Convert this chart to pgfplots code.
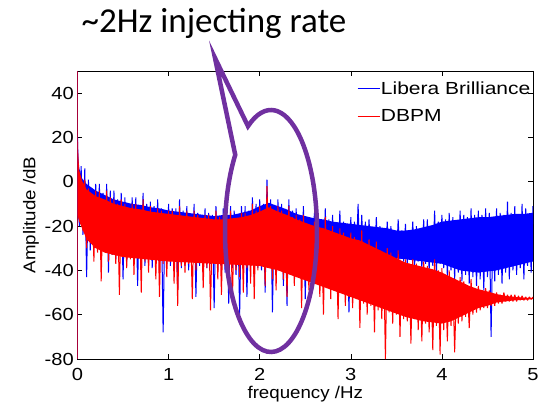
\documentclass[border=0pt]{standalone}
\usepackage{pgfplots}
\pgfplotsset{compat=1.18}
\usepackage{graphicx}
\usepackage{fontspec}
\setmainfont{Liberation Sans}
\newfontfamily\calibri{Carlito}
\definecolor{callout}{HTML}{7030A0}
\definecolor{mblue}{rgb}{0,0,1}
\definecolor{mred}{rgb}{1,0,0}
\begin{document}
\begin{tikzpicture}
\begin{axis}[
  scale only axis, width=455.5pt, height=288pt,
  at={(0pt,0pt)}, anchor=south west,
  xmin=0, xmax=5, ymin=-80, ymax=50,
  xtick={0,1,2,3,4,5}, ytick={-80,-60,-40,-20,0,20,40},
  tick align=inside, major tick length=5pt,
  axis line style={line width=0.7pt},
  tick style={line width=0.6pt, black},
  /pgf/number format/assume math mode=true,
  xticklabel={\scalebox{1.15}[1]{\pgfmathprintnumber{\tick}}},
  yticklabel={\scalebox{1.15}[1]{\pgfmathprintnumber{\tick}}},
  ticklabel style={font=\fontsize{17.5}{20}\selectfont},
  xticklabel style={anchor=base, yshift=-21pt},
  yticklabel style={anchor=east, inner sep=0pt, xshift=-3.5pt},
  xlabel={\scalebox{1.1}[1]{frequency /Hz}}, ylabel={\scalebox{1.1}[1]{Amplitude /dB}},
  label style={font=\fontsize{17}{20}\selectfont},
  xlabel style={at={(axis description cs:0.5,0)}, anchor=base, yshift=-39pt},
  ylabel style={at={(axis description cs:-0.102,0.5)}, anchor=center},
  legend style={draw=none, fill=none, at={(axis description cs:0.614,0.968)}, anchor=north west,
    inner sep=0pt, font=\fontsize{17.5}{20}\selectfont, row sep=12pt, nodes={inner sep=1pt}},
  legend cell align=left,
  legend image code/.code={\draw[#1, line width=0.6pt] (0pt,0pt) -- (22pt,0pt);},
]
% Libera Brilliance: body of the noise band
\addplot[mblue, fill=mblue, draw=none, forget plot] coordinates {
(0,15) (0.02,6) (0.05,1.5) (0.1,-1) (0.2,-4) (0.3,-6) (0.4,-8) (0.5,-9) (0.6,-10) (0.7,-10.5)
(0.8,-11.5) (0.9,-12) (1.0,-13) (1.1,-13.5) (1.2,-14) (1.3,-14.5) (1.4,-15) (1.5,-15.5) (1.6,-15) (1.7,-15)
(1.8,-14) (1.9,-13) (2.0,-11) (2.1,-9.5) (2.2,-11) (2.3,-12.5) (2.4,-14.5) (2.5,-15.5) (2.6,-16.5) (2.7,-17)
(2.8,-18) (2.9,-18.5) (3.0,-19) (3.1,-19.5) (3.2,-20) (3.3,-20.5) (3.4,-21) (3.5,-22) (3.6,-22) (3.7,-21.5)
(3.8,-20.5) (3.9,-19.5) (4.0,-18) (4.1,-17.5) (4.2,-17) (4.3,-16.5) (4.4,-16) (4.5,-16) (4.6,-15.5) (4.7,-15)
(4.8,-14.5) (4.9,-14.5) (5.0,-14)
(5.0,-36) (4.8,-38) (4.6,-40) (4.4,-41) (4.2,-40) (4.0,-37) (3.8,-36) (3.6,-35) (3.4,-34) (3.2,-34)
(3.0,-35) (2.5,-37) (2.0,-37) (1.5,-36) (1.0,-35) (0.5,-33) (0.2,-28) (0.1,-24) (0.02,-18) (0,-15)
} -- cycle;
\addplot[mblue, line width=1pt, line join=bevel] table[row sep=\\, header=false, x expr=\coordindex*0.02, y index=0] {
20\\ -20\\ 7\\ -24\\ 6\\ -43\\ 1\\ -31\\ -3\\ -30\\
-1\\ -30\\ -1\\ -34\\ -5\\ -31\\ -1\\ -41\\ -4\\ -33\\
-4\\ -35\\ -8\\ -33\\ -5\\ -44\\ -7\\ -36\\ -10\\ -34\\
-7\\ -37\\ -7\\ -47\\ -11\\ -35\\ -5\\ -38\\ -10\\ -36\\
-9\\ -39\\ -11\\ -36\\ -8\\ -40\\ -12\\ -68\\ -13\\ -37\\
-10\\ -38\\ -12\\ -37\\ -12\\ -49\\ -8\\ -39\\ -13\\ -38\\
-11\\ -40\\ -15\\ -36\\ -10\\ -52\\ -14\\ -38\\ -17\\ -41\\
-12\\ -39\\ -14\\ -37\\ -15\\ -57\\ -11\\ -40\\ -16\\ -38\\
-12\\ -41\\ -16\\ -55\\ -11\\ -39\\ -13\\ -42\\ -16\\ -60\\
-11\\ -40\\ -11\\ -52\\ -13\\ -38\\ -7\\ -43\\ -10\\ -39\\
-8\\ -40\\ -10\\ -50\\ 1\\ -38\\ -8\\ -59\\ -11\\ -41\\
-8\\ -39\\ -10\\ -47\\ -13\\ -56\\ -8\\ -40\\ -13\\ -38\\
-12\\ -40\\ -16\\ -37\\ -11\\ -53\\ -16\\ -36\\ -17\\ -39\\
-14\\ -40\\ -14\\ -44\\ -18\\ -39\\ -12\\ -42\\ -17\\ -38\\
-15\\ -40\\ -19\\ -37\\ -13\\ -41\\ -18\\ -36\\ -19\\ -59\\
-16\\ -37\\ -18\\ -35\\ -10\\ -38\\ -15\\ -34\\ -18\\ -36\\
-17\\ -35\\ -21\\ -37\\ -16\\ -34\\ -20\\ -36\\ -23\\ -35\\
-18\\ -36\\ -20\\ -34\\ -23\\ -37\\ -17\\ -35\\ -22\\ -36\\
-19\\ -37\\ -23\\ -35\\ -18\\ -38\\ -20\\ -36\\ -23\\ -39\\
-17\\ -37\\ -17\\ -40\\ -20\\ -38\\ -13\\ -41\\ -18\\ -37\\
-15\\ -39\\ -17\\ -43\\ -14\\ -40\\ -16\\ -44\\ -19\\ -41\\
-13\\ -45\\ -15\\ -42\\ -16\\ -46\\ -12\\ -43\\ -15\\ -47\\
-13\\ -44\\ -15\\ -49\\ -12\\ -43\\ -14\\ -70\\ -17\\ -45\\
-12\\ -42\\ -14\\ -46\\ -15\\ -41\\ -9\\ -44\\ -14\\ -40\\
-11\\ -42\\ -15\\ -39\\ -10\\ -44\\ -12\\ -38\\ -15\\ -41\\
-11\\
};
\addlegendentry{\scalebox{1.2}[1]{Libera Brilliance}}
% DBPM: body of the noise band
\addplot[mred, fill=mred, draw=none, forget plot] coordinates {
(0,15) (0.02,5) (0.05,0.5) (0.1,-3.5) (0.2,-6.5) (0.3,-8) (0.4,-10) (0.5,-11) (0.6,-12) (0.7,-12.5)
(0.8,-13.5) (0.9,-14) (1.0,-14.5) (1.1,-15) (1.2,-15.5) (1.3,-16) (1.4,-16.5) (1.5,-17) (1.6,-17) (1.7,-16.5)
(1.8,-16) (1.9,-15) (2.0,-13.5) (2.1,-11.5) (2.2,-13.5) (2.3,-15) (2.4,-17) (2.5,-18.5) (2.6,-20) (2.7,-21)
(2.8,-22.5) (2.9,-24) (3.0,-25.5) (3.1,-26.5) (3.2,-28.5) (3.3,-30.5) (3.4,-32.5) (3.5,-34.5) (3.6,-36.5) (3.7,-37.5)
(3.8,-38.5) (3.9,-39.5) (4.0,-41) (4.1,-43) (4.2,-45) (4.3,-47) (4.4,-48.5) (4.5,-49.5) (4.6,-50.7) (4.7,-51.5)
(4.8,-52) (4.9,-52.3) (5.0,-52.5)
(5.0,-53) (4.8,-53.5) (4.6,-54.5) (4.5,-56) (4.4,-57) (4.3,-59) (4.2,-61) (4.1,-63) (4.0,-64) (3.8,-63)
(3.6,-61) (3.4,-58) (3.2,-55) (3.0,-52) (2.8,-49) (2.6,-46) (2.4,-43) (2.2,-40) (2.0,-38) (1.5,-37)
(1.0,-36) (0.5,-34) (0.3,-32) (0.2,-30) (0.1,-26) (0.02,-18) (0,-15)
} -- cycle;
\addplot[mred, line width=1pt, line join=bevel] table[row sep=\\, header=false, x expr=\coordindex*0.02, y index=0] {
18\\ -18\\ 1\\ -22\\ 1\\ -30\\ -3\\ -27\\ -6\\ -36\\
-4\\ -32\\ -4\\ -45\\ -8\\ -30\\ -4\\ -36\\ -7\\ -33\\
-8\\ -37\\ -10\\ -51\\ -8\\ -33\\ -10\\ -39\\ -14\\ -35\\
-10\\ -42\\ -10\\ -34\\ -14\\ -50\\ -8\\ -36\\ -14\\ -41\\
-11\\ -35\\ -15\\ -44\\ -12\\ -52\\ -13\\ -37\\ -16\\ -43\\
-13\\ -36\\ -13\\ -46\\ -17\\ -56\\ -11\\ -38\\ -16\\ -41\\
-13\\ -37\\ -18\\ -53\\ -13\\ -40\\ -15\\ -36\\ -19\\ -48\\
-15\\ -39\\ -15\\ -58\\ -19\\ -37\\ -13\\ -44\\ -16\\ -51\\
-15\\ -38\\ -19\\ -45\\ -13\\ -55\\ -17\\ -40\\ -18\\ -43\\
-14\\ -50\\ -14\\ -39\\ -16\\ -46\\ -10\\ -53\\ -13\\ -40\\
-11\\ -38\\ -13\\ -47\\ -2\\ -36\\ -11\\ -44\\ -13\\ -49\\
-11\\ -39\\ -13\\ -44\\ -15\\ -52\\ -11\\ -40\\ -16\\ -47\\
-15\\ -41\\ -17\\ -57\\ -15\\ -42\\ -19\\ -49\\ -20\\ -44\\
-18\\ -46\\ -18\\ -52\\ -22\\ -60\\ -16\\ -47\\ -22\\ -53\\
-20\\ -49\\ -24\\ -62\\ -21\\ -50\\ -23\\ -56\\ -27\\ -52\\
-23\\ -57\\ -25\\ -53\\ -28\\ -66\\ -22\\ -55\\ -28\\ -60\\
-26\\ -56\\ -30\\ -68\\ -27\\ -58\\ -31\\ -62\\ -32\\ -80\\
-30\\ -59\\ -32\\ -64\\ -35\\ -60\\ -31\\ -70\\ -36\\ -62\\
-35\\ -63\\ -37\\ -73\\ -35\\ -62\\ -37\\ -67\\ -41\\ -72\\
-36\\ -64\\ -38\\ -68\\ -41\\ -76\\ -35\\ -65\\ -40\\ -78\\
-39\\ -67\\ -43\\ -72\\ -40\\ -65\\ -44\\ -77\\ -47\\ -64\\
-43\\ -63\\ -45\\ -61\\ -48\\ -66\\ -44\\ -60\\ -48\\ -59\\
-47\\ -58\\ -49\\ -57\\ -48\\ -57\\ -49\\ -56\\ -51\\ -56\\
-50\\ -55\\ -51\\ -55\\ -50\\ -54\\ -51\\ -54\\ -51\\ -54\\
-51\\ -54\\ -51.5\\ -53.5\\ -51.5\\ -53.5\\ -52\\ -53.5\\ -52\\ -53\\
-52\\
};
\addlegendentry{\scalebox{1.2}[1]{DBPM}}
\addplot[mblue, line width=0.7pt, forget plot] coordinates {(0,-80) (0,50)};
\addplot[mred, line width=0.7pt, forget plot] coordinates {(0,-80) (0,50)};
\end{axis}
\node[anchor=base, font=\calibri\fontsize{35}{40}\selectfont] at (136.5pt,326pt) {\textasciitilde 2Hz injecting rate};
\draw[callout, line width=4.5pt, line join=miter, miter limit=25]
  (137.5pt,301pt) -- (157.75pt,204.15pt)
  arc[start angle=141, end angle=480, x radius=46pt, y radius=121pt] -- cycle;
\pgfresetboundingbox
\path[use as bounding box] (-77.5pt,-46pt) rectangle (471.5pt,359pt);
\end{tikzpicture}
\end{document}
